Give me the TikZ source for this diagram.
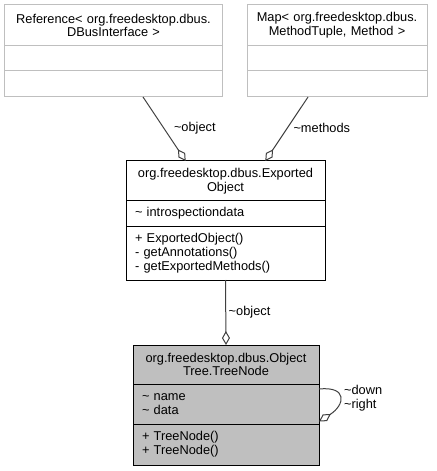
\documentclass[tikz,border=0pt]{standalone}
\usepackage{fontspec}
\setmainfont{Liberation Sans}
\usetikzlibrary{positioning,arrows.meta,calc}
\definecolor{grey75}{HTML}{BFBFBF}
\definecolor{grey25}{HTML}{404040}
\newcommand{\tld}{\textasciitilde}

\begin{document}
\begin{tikzpicture}[x=1bp,y=-1bp,
		box/.style={draw,line width=1bp,outer sep=0pt,inner xsep=9bp,inner ysep=0pt,
			font=\fontsize{12.8bp}{13.8bp}\selectfont},
		title/.style={box,align=center},
		part/.style={box,align=left},
		extern/.style={draw=grey75},
		assoc/.style={draw=grey25,line width=1bp,-{Diamond[open,length=14bp,width=8bp]}},
		lbl/.style={anchor=west,inner sep=0pt,align=left,font=\fontsize{12.8bp}{13.8bp}\selectfont}]
		\useasboundingbox (0,0) rectangle (437,471);
		
		% Reference class
		\node[title,extern,text width=199bp,minimum height=41bp] (refT) at (113.5,25.5)
			{Reference< org.freedesktop.dbus.\\DBusInterface >};
		\node[part,extern,text width=199bp,minimum height=25bp,below=0pt of refT] (refA) {};
		\node[part,extern,text width=199bp,minimum height=26bp,below=0pt of refA] (refM) {};
		
		% Map class
		\node[title,extern,text width=162bp,minimum height=41bp] (mapT) at (337,25.5)
			{Map< org.freedesktop.dbus.\\MethodTuple, Method >};
		\node[part,extern,text width=162bp,minimum height=25bp,below=0pt of mapT] (mapA) {};
		\node[part,extern,text width=162bp,minimum height=26bp,below=0pt of mapA] (mapM) {};
		
		% ExportedObject class
		\node[title,text width=181bp,minimum height=40bp] (expT) at (225.5,181)
			{org.freedesktop.dbus.Exported\\Object};
		\node[part,text width=181bp,minimum height=25bp,below=0pt of expT] (expA)
			{\tld{} introspectiondata};
		\node[part,text width=181bp,minimum height=54bp,below=0pt of expA] (expM)
			{+ ExportedObject()\\- getAnnotations()\\- getExportedMethods()};
		
		% TreeNode class
		\node[title,fill=grey75,text width=168bp,minimum height=39bp] (treeT) at (226,364.5)
			{org.freedesktop.dbus.Object\\Tree.TreeNode};
		\node[part,fill=grey75,text width=168bp,minimum height=40bp,below=0pt of treeT] (treeA)
			{\tld{} name\\\tld{} data};
		\node[part,fill=grey75,text width=168bp,minimum height=41bp,below=0pt of treeA] (treeM)
			{+ TreeNode()\\+ TreeNode()};
		
		% Associations
		\draw[assoc] ($(refM.south west)!.636!(refM.south east)$)
			-- node[lbl,pos=.48,xshift=10bp] {\tld object}
			($(expT.north west)!.30!(expT.north east)$);
		\draw[assoc] ($(mapM.south west)!.339!(mapM.south east)$)
			-- node[lbl,pos=.48,xshift=5.5bp] {\tld methods}
			($(expT.north west)!.70!(expT.north east)$);
		\draw[assoc] (expM.south) -- node[lbl,pos=.49,xshift=2.5bp] {\tld object} (treeT.north);
		
		% Self loop
		\draw[assoc] ([yshift=15bp]treeA.east) .. controls +(29,-3) and +(26,-16.5) ..
			node[lbl,pos=.5,xshift=4bp] {\tld down\\\tld right} ([yshift=-17.5bp]treeA.east);
	\end{tikzpicture}
\end{document}
